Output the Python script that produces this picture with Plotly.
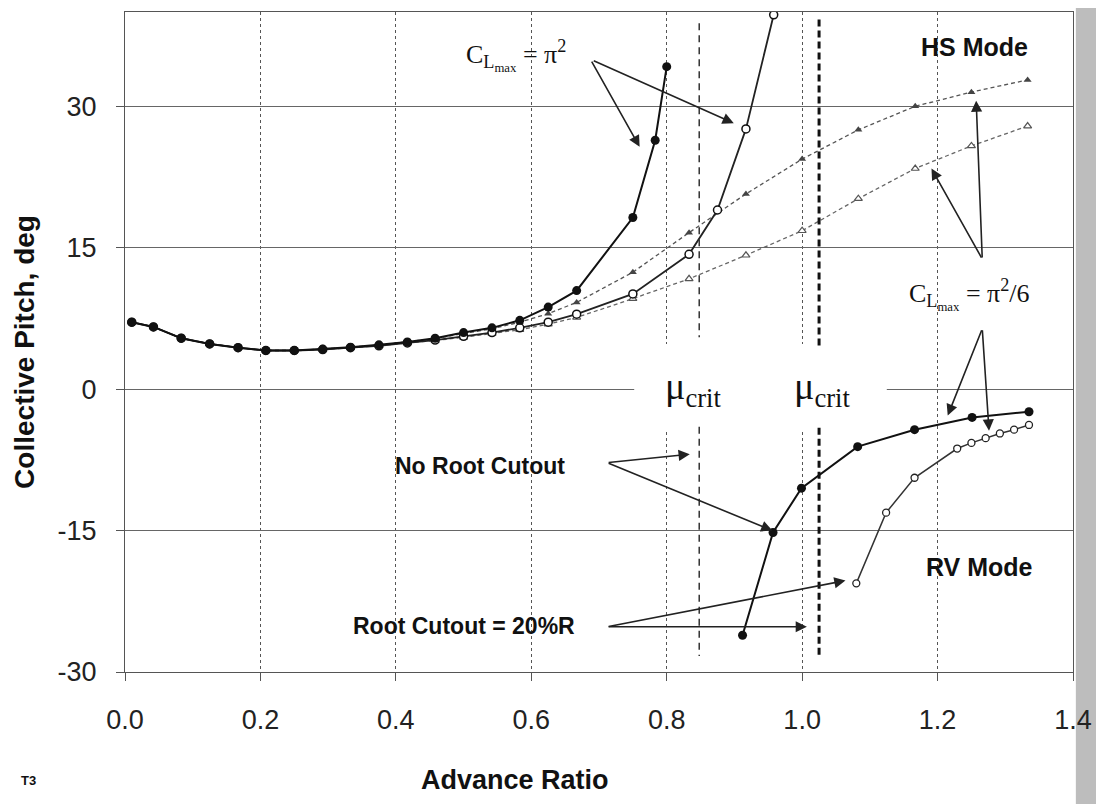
import plotly.graph_objects as go

# ───────────────────────── DATA ─────────────────────────

# shared low advance ratio points
mu_low = [0.01, 0.042, 0.083, 0.125, 0.167, 0.208, 0.25, 0.292, 0.333,
          0.375, 0.417, 0.458, 0.5, 0.542, 0.583, 0.625, 0.667]

# HS mode, CLmax = pi^2, no root cutout (filled circles, solid)
mu_a = mu_low + [0.75, 0.783, 0.8]
th_a = [7.1, 6.6, 5.4, 4.8, 4.4, 4.1, 4.1, 4.25, 4.45, 4.7, 5.0, 5.4,
        6.0, 6.5, 7.3, 8.7, 10.45, 18.2, 26.4, 34.2]

# HS mode, CLmax = pi^2, root cutout 20%R (open circles, solid)
mu_b = mu_low + [0.75, 0.833, 0.875, 0.917, 0.958]
th_b = [7.1, 6.6, 5.4, 4.8, 4.4, 4.1, 4.1, 4.2, 4.4, 4.6, 4.9, 5.2,
        5.6, 6.0, 6.5, 7.1, 7.95, 10.1, 14.3, 19.0, 27.6, 39.7]

# HS mode, CLmax = pi^2/6, no root cutout (filled triangles, dashed)
mu_c = mu_low + [0.75, 0.833, 0.917, 1.0, 1.083, 1.167, 1.25, 1.333]
th_c = [7.1, 6.6, 5.4, 4.8, 4.4, 4.1, 4.1, 4.25, 4.45, 4.7, 5.0, 5.35,
        5.9, 6.4, 7.1, 8.0, 9.2, 12.4, 16.6, 20.7, 24.4, 27.5, 30.0, 31.5, 32.8]

# HS mode, CLmax = pi^2/6, root cutout 20%R (open triangles, dashed)
mu_d = mu_low + [0.75, 0.833, 0.917, 1.0, 1.083, 1.167, 1.25, 1.333]
th_d = [7.1, 6.6, 5.4, 4.8, 4.4, 4.1, 4.1, 4.2, 4.4, 4.6, 4.9, 5.15,
        5.5, 5.9, 6.3, 6.9, 7.6, 9.6, 11.7, 14.2, 16.8, 20.2, 23.4, 25.8, 27.9]

# RV mode, no root cutout (filled circles)
mu_e = [0.912, 0.957, 0.999, 1.082, 1.166, 1.251, 1.335]
th_e = [-26.1, -15.2, -10.5, -6.1, -4.3, -3.0, -2.4]

# RV mode, root cutout 20%R (open circles)
mu_f = [1.080, 1.124, 1.166, 1.229, 1.25, 1.271, 1.292, 1.313, 1.335]
th_f = [-20.6, -13.1, -9.4, -6.3, -5.7, -5.2, -4.7, -4.3, -3.8]

# critical advance ratios (dashed verticals) and their drawn extents
mu_crit = [0.848, 1.025]
crit_upper = [(38.8, 5.5), (39.2, 4.6)]
crit_lower = [(-4.0, -28.3), (-4.1, -28.6)]

x_ticks = [0.0, 0.2, 0.4, 0.6, 0.8, 1.0, 1.2, 1.4]
y_ticks = [-30, -15, 0, 15, 30]
y_tick_text = ["-30", "-15", "0", "15", "30"]

# ───────────────────────── HELPERS ─────────────────────────

SANS = "Liberation Sans, Arial, sans-serif"
SERIF = "Liberation Serif, Times New Roman, serif"


def _label(fig, x, y, text, size, family=SANS, xanchor="center"):
    fig.add_annotation(x=x, y=y, xref="x", yref="y", text=text,
                       showarrow=False, xanchor=xanchor,
                       font=dict(family=family, size=size, color="#111"))


def _arrow(fig, x0, y0, x1, y1):
    fig.add_annotation(x=x1, y=y1, ax=x0, ay=y0, xref="x", yref="y",
                       axref="x", ayref="y", text="", showarrow=True,
                       arrowhead=2, arrowsize=1.4, arrowwidth=1.6,
                       arrowcolor="#222", standoff=0)


def _paper_text(fig, x, y, text, size, angle=0):
    fig.add_annotation(x=x, y=y, xref="paper", yref="paper", text=text,
                       textangle=angle, showarrow=False,
                       xanchor="center", yanchor="middle",
                       font=dict(family=SANS, size=size, color="#111"))


# ───────────────────────── FIGURE ─────────────────────────

fig = go.Figure()

fig.add_trace(go.Scatter(
    x=mu_d, y=th_d, mode="lines+markers",
    line=dict(color="#666", width=1.3, dash="4px,3px"),
    marker=dict(symbol="triangle-up", size=7, color="white",
                line=dict(color="#555", width=1.2))
))
fig.add_trace(go.Scatter(
    x=mu_c, y=th_c, mode="lines+markers",
    line=dict(color="#555", width=1.3, dash="4px,3px"),
    marker=dict(symbol="triangle-up", size=7, color="#444")
))
fig.add_trace(go.Scatter(
    x=mu_b, y=th_b, mode="lines+markers",
    line=dict(color="#222", width=1.8),
    marker=dict(symbol="circle", size=8, color="white",
                line=dict(color="#111", width=1.5))
))
fig.add_trace(go.Scatter(
    x=mu_a, y=th_a, mode="lines+markers",
    line=dict(color="#111", width=2),
    marker=dict(symbol="circle", size=9, color="#111")
))
fig.add_trace(go.Scatter(
    x=mu_f, y=th_f, mode="lines+markers",
    line=dict(color="#333", width=1.5),
    marker=dict(symbol="circle", size=7, color="white",
                line=dict(color="#222", width=1.3))
))
fig.add_trace(go.Scatter(
    x=mu_e, y=th_e, mode="lines+markers",
    line=dict(color="#111", width=2),
    marker=dict(symbol="circle", size=9, color="#111")
))

# white patch behind the mu_crit labels (grid is interrupted there)
fig.add_shape(type="rect", xref="x", yref="y", x0=0.752, x1=1.125,
              y0=-4.3, y1=4.8, fillcolor="white", line_width=0,
              layer="between")

# mu_crit dashed verticals
styles = [dict(color="#333", width=1.5, dash="7px,5px"),
          dict(color="#111", width=3, dash="7px,4px")]
for m, up, lo, st in zip(mu_crit, crit_upper, crit_lower, styles):
    for y0, y1 in (up, lo):
        fig.add_shape(type="line", xref="x", yref="y", x0=m, x1=m,
                      y0=y0, y1=y1, line=st)

# halftone scan edge on the right (kept under the tick labels)
fig.add_shape(type="rect", xref="paper", yref="paper", x0=1.003, x1=1.06,
              y0=-0.22, y1=1.03, fillcolor="#bdbdbd", line_width=0,
              layer="below")

# ───────────────────────── TEXT ─────────────────────────

_label(fig, 0.578, 35.4, "C<sub>L<sub>max</sub></sub> = π<sup>2</sup>", 26, SERIF)
_arrow(fig, 0.688, 34.9, 0.760, 25.7)
_arrow(fig, 0.690, 34.9, 0.899, 28.2)

_label(fig, 1.255, 36.3, "<b>HS Mode</b>", 25)

_label(fig, 1.247, 10.0, "C<sub>L<sub>max</sub></sub> = π<sup>2</sup>/6", 26, SERIF)
_arrow(fig, 1.266, 13.8, 1.257, 30.6)
_arrow(fig, 1.266, 13.8, 1.191, 23.4)
_arrow(fig, 1.266, 6.4, 1.215, -2.8)
_arrow(fig, 1.266, 6.4, 1.276, -4.4)

_label(fig, 0.839, 0.0, "μ<sub>crit</sub>", 38, SERIF)
_label(fig, 1.030, 0.0, "μ<sub>crit</sub>", 38, SERIF)

_label(fig, 0.524, -8.1, "<b>No Root Cutout</b>", 23)
_arrow(fig, 0.712, -7.8, 0.834, -6.9)
_arrow(fig, 0.712, -7.8, 0.956, -15.0)

_label(fig, 0.50, -25.1, "<b>Root Cutout = 20%R</b>", 23)
_arrow(fig, 0.712, -25.2, 1.007, -25.2)
_arrow(fig, 0.712, -25.2, 1.064, -20.3)

_label(fig, 1.262, -18.9, "<b>RV Mode</b>", 25)

# axis titles and figure tag, placed in paper space
_paper_text(fig, -0.1055, 0.485, "<b>Collective Pitch, deg</b>", 28, -90)
_paper_text(fig, 0.411, -0.164, "<b>Advance Ratio</b>", 27)
_paper_text(fig, -0.102, -0.164, "<b>T3</b>", 13)

# ───────────────────────── LAYOUT ─────────────────────────

# the page body adds an 8px offset, so the figure is 8px smaller
fig.update_layout(
    width=1096, height=796,
    paper_bgcolor="white", plot_bgcolor="white",
    showlegend=False,
    margin=dict(l=117, r=31, t=4, b=132),
    font=dict(family=SANS, color="#222"),
)
fig.update_xaxes(
    range=[0, 1.4], tickvals=x_ticks, tickformat=".1f",
    showgrid=True, gridcolor="#555", gridwidth=1, griddash="dot",
    showline=True, linecolor="#555", linewidth=1, mirror=True,
    ticks="outside", ticklen=8, tickcolor="#555",
    ticklabelstandoff=16, zeroline=False,
    tickfont=dict(family=SANS, size=27, color="#222"),
)
fig.update_yaxes(
    range=[-30, 40], tickvals=y_ticks, ticktext=y_tick_text,
    showgrid=True, gridcolor="#666", gridwidth=1.2,
    showline=True, linecolor="#555", linewidth=1, mirror=True,
    ticks="outside", ticklen=8, tickcolor="#555",
    ticklabelstandoff=14, zeroline=False,
    tickfont=dict(family=SANS, size=27, color="#222"),
)

fig.write_html("out.html")
